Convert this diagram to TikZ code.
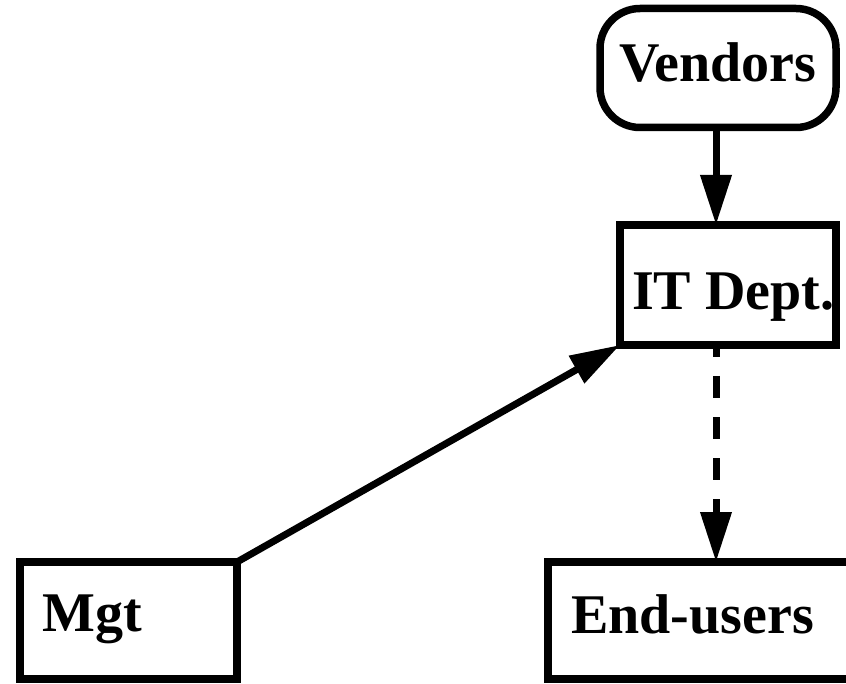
\documentclass[tikz,border=0pt]{standalone}
\usepackage{fontspec}
\setmainfont{Liberation Serif}
\usetikzlibrary{arrows.meta}
\begin{document}
\begin{tikzpicture}[x=1pt,y=-1pt,
  box/.style={draw=black, line width=7.5pt, rectangle, outer sep=0pt, inner sep=0pt},
  lbl/.style={font=\fontsize{56}{62}\selectfont\bfseries, inner sep=0pt, anchor=base west},
  arr/.style={line width=7pt, -{Triangle[length=50pt,width=30pt]}}]
\useasboundingbox (0,0) rectangle (846,684);
\fill[white] (0,0) rectangle (846,684);
\node[box, rounded corners=40pt, minimum width=236pt, minimum height=119pt] (vend) at (718,68) {};
\node[box, minimum width=216pt, minimum height=120pt] (it) at (728,285) {};
\node[box, minimum width=217pt, minimum height=117pt] (mgt) at (128.5,620.5) {};
\node[box, minimum width=330pt, minimum height=117pt] (eu) at (713,620.5) {};
\node[lbl] (tv) at (619,82) {Vendors};
\node[lbl] (ti) at (632,310) {IT Dept.};
\node[lbl] (tm) at (42,631) {Mgt};
\node[lbl] (te) at (571,633) {End-users};
\coordinate (ax) at (716,0);
\draw[arr] (vend.south -| ax) -- (it.north -| ax);
\draw[arr] (mgt.north east) -- (it.south west);
\draw[arr, dash pattern=on 22pt off 19pt, dash phase=10pt] (it.south -| ax) -- (eu.north -| ax);
\end{tikzpicture}
\end{document}
